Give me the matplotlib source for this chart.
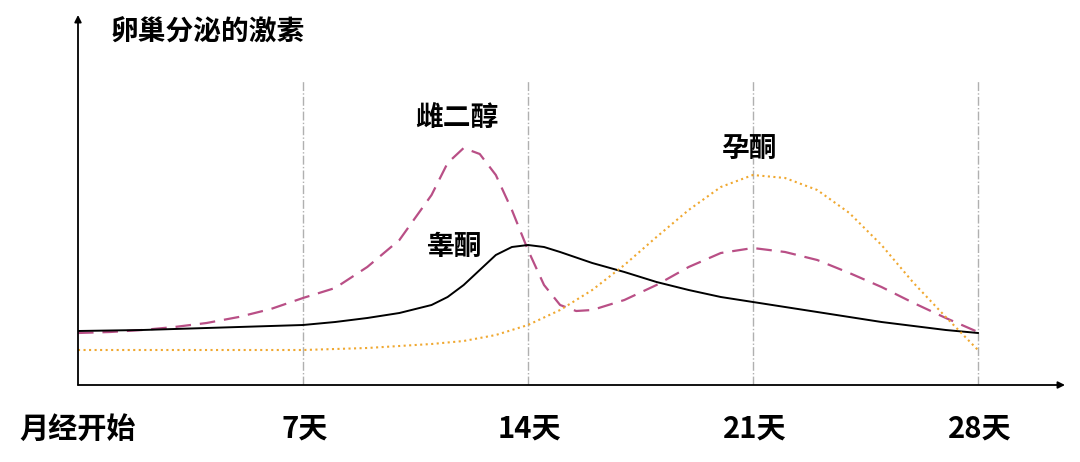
import numpy as np
import matplotlib.pyplot as plt

plt.rcParams['font.family'] = ['Noto Sans CJK SC', 'DejaVu Sans']

# days and levels
e2_day = [0, 1, 2, 3, 4, 5, 6, 7, 8, 9, 10, 11, 11.5, 12, 12.5, 13, 13.5, 14, 14.5, 15, 15.5, 16,
          17, 18, 19, 20, 21, 22, 23, 24, 25, 26, 27, 28]
e2_val = [52, 53, 55, 58, 62, 68, 76, 87, 97, 118, 145, 190, 222, 237, 231, 210, 175, 135, 100, 80,
          74, 75, 85, 100, 118, 132, 137, 133, 125, 112, 98, 82, 67, 53]
t_day = [0, 2, 4, 6, 7, 8, 9, 10, 11, 11.5, 12, 12.5, 13, 13.5, 14, 14.5, 15, 16, 17, 18, 19, 20,
         21, 22, 23, 24, 25, 26, 27, 28]
t_val = [54, 55, 57, 59, 60, 63, 67, 72, 80, 88, 100, 115, 130, 138, 140, 138, 133, 122, 113, 103,
         95, 88, 83, 78, 73, 68, 63, 59, 55, 52]
p_day = [0, 4, 7, 9, 11, 12, 13, 14, 15, 16, 17, 18, 19, 20, 21, 22, 23, 24, 25, 26, 27, 28]
p_val = [35, 35, 35, 37, 41, 44, 50, 60, 75, 95, 120, 148, 175, 198, 210, 207, 195, 172, 140, 102,
         68, 35]
tick_days = [0, 7, 14, 21, 28]
tick_labels = ['月经开始', '7天', '14天', '21天', '28天']

fig = plt.figure(figsize=(10.8, 4.62), dpi=100)
ax = fig.add_axes([78 / 1080, 77 / 462, 987 / 1080, 370 / 462])
ax.set_xlim(0, 987 / 32.14)
ax.set_ylim(0, 370)
ax.axis('off')

for d in tick_days[1:]:
    ax.plot([d, d], [0, 305], color='#b0b0b0', lw=1, ls='-.')

ax.plot(e2_day, e2_val, color='#b94f86', lw=1.6, ls=(0, (7, 4)))
ax.plot(t_day, t_val, color='black', lw=1.4)
ax.plot(p_day, p_val, color='#f0a830', lw=1.5, ls=':')

ax.annotate('', xy=(987 / 32.14, 0), xytext=(0, 0),
            arrowprops=dict(arrowstyle='-|>', color='black', lw=1.3, shrinkA=0, shrinkB=0))
ax.annotate('', xy=(0, 370), xytext=(0, 0),
            arrowprops=dict(arrowstyle='-|>', color='black', lw=1.3, shrinkA=0, shrinkB=0))

for d, lab in zip(tick_days, tick_labels):
    ax.text(d + (0.05 if d else 0), -44, lab, ha='center', va='center', fontsize=21,
            fontweight='heavy', clip_on=False)

ax.text(1.0, 353, '卵巢分泌的激素', ha='left', va='center', fontsize=20, fontweight='heavy')
ax.text(11.8, 267, '雌二醇', ha='center', va='center', fontsize=20, fontweight='heavy')
ax.text(11.7, 138, '睾酮', ha='center', va='center', fontsize=20, fontweight='heavy')
ax.text(20.9, 235, '孕酮', ha='center', va='center', fontsize=20, fontweight='heavy')

fig.savefig('out.png', dpi=100)
